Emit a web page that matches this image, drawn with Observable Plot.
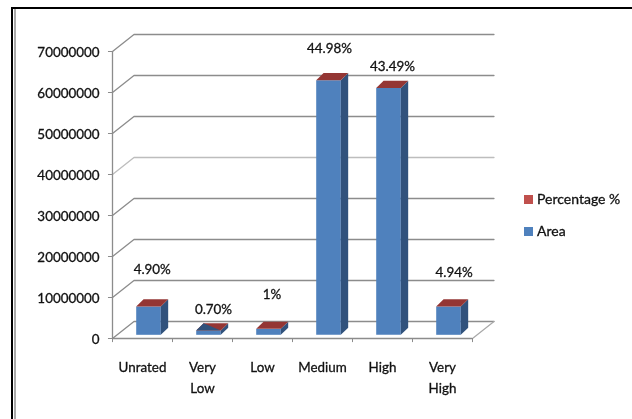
<!DOCTYPE html>
<html>
<head>
<meta charset="utf-8">
<script src="https://cdn.jsdelivr.net/npm/d3@7"></script>
<script src="https://cdn.jsdelivr.net/npm/@observablehq/plot@0.6"></script>
<style>
html,body{margin:0;padding:0;background:#fff;width:632px;height:419px;overflow:hidden;font-family:Lato,sans-serif}
#chart{position:absolute;left:0;top:0;filter:blur(0.35px)}
.frame{position:absolute;background:#000}
.legend{position:absolute;left:524px;font-size:14px;color:#111;line-height:16px;white-space:nowrap;filter:blur(0.35px);-webkit-text-stroke:0.3px #111}
.legend i{display:inline-block;width:9px;height:9px;margin-right:4px}
</style>
</head>
<body>
<div id="chart"></div>
<div class="frame" style="left:11px;top:7px;width:621px;height:2px"></div>
<div class="frame" style="left:11px;top:7px;width:2px;height:412px"></div>
<div class="frame" style="left:14px;top:9px;width:2px;height:410px;background:#aaa"></div>
<div class="legend" style="top:191px"><i style="background:#c0504d"></i>Percentage %</div>
<div class="legend" style="top:223px"><i style="background:#4f81bd"></i>Area</div>
<script>
const categories = ["Unrated", "Very\nLow", "Low", "Medium", "High", "Very\nHigh"];
const area = [6900000, 1050000, 1450000, 62100000, 60200000, 6900000];
const percentLabels = ["4.90%", "0.70%", "1%", "44.98%", "43.49%", "4.94%"];
const labelX = [0.662, 1.683, 2.66, 3.617, 4.667, 5.695];
const labelY = [16800000, 7050000, 10700000, 70600000, 66200000, 16060000];
const yTicks = [0, 10000000, 20000000, 30000000, 40000000, 50000000, 60000000, 70000000];

// Oblique projection of the 3-D chart expressed in data units
const wallDX = 0.358, wallDY = 4150000;
const barLeft = 0.395, barW = 0.41, barBase = 900000;
const sideDX = 0.123, sideDY = 1750000;

const blue = "#4f81bd", darkBlue = "#31527c", red = "#943634", gridDark = "#8c8c8c";

function poly(id, fill, pts) { return pts.map(([x, y]) => ({id, fill, x, y})); }

const faces = [];
area.forEach((v, i) => {
  const x0 = i + barLeft, x1 = x0 + barW, y0 = barBase, y1 = barBase + v;
  faces.push(...poly(`f${i}`, blue, [[x0,y0],[x1,y0],[x1,y1],[x0,y1]]));
  faces.push(...poly(`s${i}`, darkBlue, [[x1,y0],[x1+sideDX,y0+sideDY],[x1+sideDX,y1+sideDY],[x1,y1]]));
  faces.push(...poly(`t${i}`, red, [[x0,y1],[x1,y1],[x1+sideDX,y1+sideDY],[x0+sideDX,y1+sideDY]]));
  if (i === 1) {
    faces.push(...poly(`u${i}`, darkBlue, [[x0,y1],[x1,y1],[x0+sideDX,y1+sideDY]]));
  }
});

const wall = yTicks.flatMap(t => [
  {t, x: 0, y: t},
  {t, x: wallDX, y: t + wallDY},
  {t, x: 6 + wallDX, y: t + wallDY}
]);
const floorRight = [{x: 6, y: 0}, {x: 6 + wallDX, y: wallDY}];
const ticksX = d3.range(7);
const textStyle = {fontSize: 13.4, fill: "#111", stroke: "#111", strokeWidth: 0.3};

const plot = Plot.plot({
  width: 632,
  height: 419,
  marginLeft: 112,
  marginRight: 160,
  marginTop: 51,
  marginBottom: 81,
  x: {type: "linear", domain: [0, 6], axis: null},
  y: {type: "linear", domain: [0, 70000000], axis: null},
  style: {background: "transparent", fontFamily: "Lato, sans-serif"},
  marks: [
    Plot.line(wall, {x: "x", y: "y", z: "t", stroke: d => d.t === 40000000 ? "#bdbdbd" : gridDark, strokeWidth: 1.3}),
    Plot.line(floorRight, {x: "x", y: "y", stroke: "#a8a8a8", strokeWidth: 1.2}),
    Plot.ruleX([0], {y1: 0, y2: 70000000, stroke: gridDark, strokeWidth: 1.3}),
    Plot.ruleY([0], {x1: 0, x2: 6, stroke: gridDark, strokeWidth: 1.3}),
    Plot.ruleY(yTicks, {x1: -0.067, x2: 0, stroke: gridDark}),
    Plot.line(faces, {x: "x", y: "y", z: "id", fill: "fill", stroke: "none", curve: "linear-closed"}),
    Plot.ruleX(ticksX, {y1: -1000000, y2: 0, stroke: gridDark}),
    Plot.text(yTicks, {x: 0, y: d => d, text: d => String(d), textAnchor: "end", dx: -13, dy: 1.5, ...textStyle}),
    Plot.text(categories, {x: (d, i) => i + 0.5, y: 0, text: d => d, dy: 19, lineHeight: 1.55, lineAnchor: "top", ...textStyle}),
    Plot.text(percentLabels, {x: (d, i) => labelX[i], y: (d, i) => labelY[i], text: d => d, ...textStyle})
  ]
});
document.getElementById("chart").append(plot);
</script>
</body>
</html>
